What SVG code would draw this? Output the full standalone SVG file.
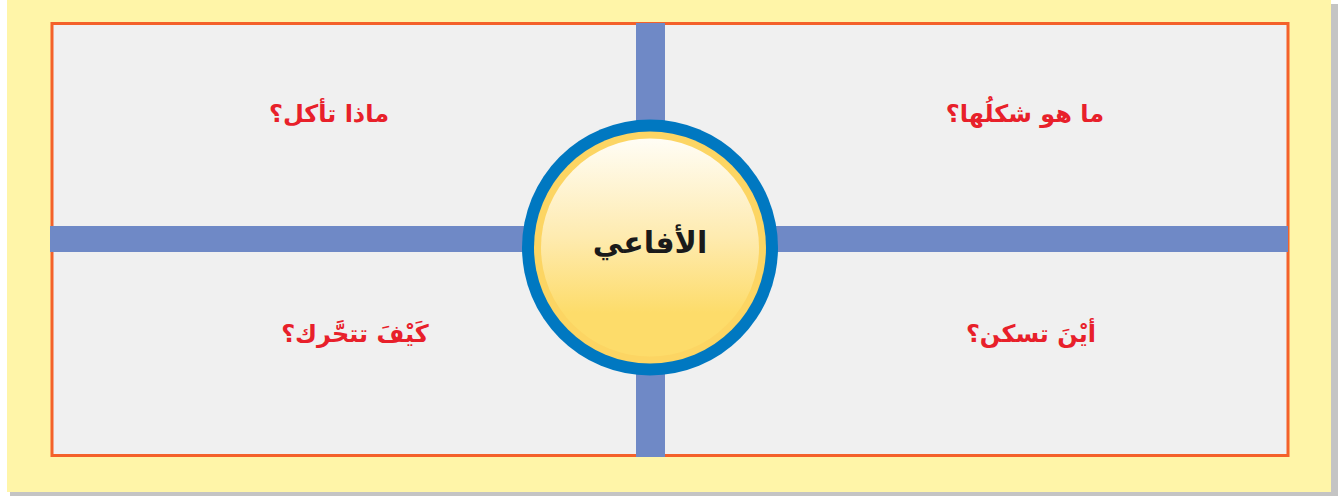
<svg xmlns="http://www.w3.org/2000/svg" width="1342" height="496" viewBox="0 0 1342 496">
<style>
.q{font-family:"DejaVu Sans",sans-serif;font-weight:bold;font-size:24px;fill:#e8202a;text-anchor:middle;direction:rtl}
.bar{fill:#6f89c6}
</style>
<defs>
<linearGradient id="g" x1="0" y1="0" x2="0" y2="1">
<stop offset="0" stop-color="#fffdf5"/>
<stop offset="0.45" stop-color="#feebb0"/>
<stop offset="0.8" stop-color="#fddc6a"/>
<stop offset="1" stop-color="#fddc6a"/>
</linearGradient>
</defs>
<rect x="0" y="0" width="1342" height="496" fill="#ffffff"/>
<rect x="1331" y="4" width="7" height="492" fill="#c4c4c4"/>
<rect x="10" y="492" width="1328" height="4" fill="#c4c4c4"/>
<rect x="7" y="0" width="1324" height="492" fill="#fff5a8"/>
<rect x="52" y="23.5" width="1236" height="432" fill="#f0f0f0" stroke="#f4612a" stroke-width="3"/>
<g id="connectors">
<rect class="bar" x="636" y="23" width="29" height="434"/>
<rect class="bar" x="50" y="226" width="1238" height="26"/>
</g>
<g id="center">
<circle cx="650" cy="247.5" r="128" fill="#0078c1"/>
<circle cx="650" cy="247.5" r="116" fill="#fcd563"/>
<circle cx="650" cy="247.5" r="109" fill="url(#g)"/>
<text x="650" y="253" font-family="DejaVu Sans,sans-serif" font-weight="bold" font-size="30" fill="#1a1a1a" text-anchor="middle" direction="rtl">الأفاعي</text>
</g>
<g id="q-eat"><text class="q" x="329" y="122">ماذا تأكل؟</text></g>
<g id="q-shape"><text class="q" x="1025" y="122">ما هو شكلُها؟</text></g>
<g id="q-move"><text class="q" x="355" y="342">كَيْفَ تتحَّرك؟</text></g>
<g id="q-live"><text class="q" x="1031" y="342">أيْنَ تسكن؟</text></g>
</svg>
